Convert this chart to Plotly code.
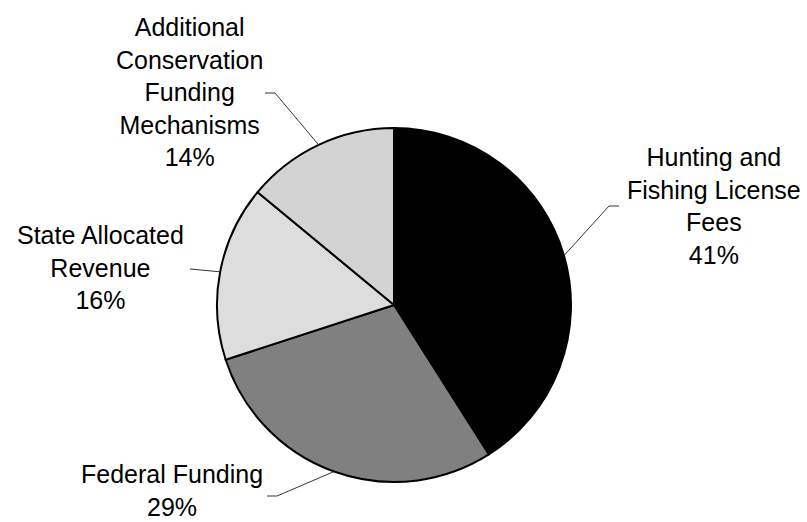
import math
import plotly.graph_objects as go

# Data
categories = ["Hunting and Fishing License Fees", "Federal Funding",
              "State Allocated Revenue", "Additional Conservation Funding Mechanisms"]
label_text = ["Hunting and<br>Fishing License<br>Fees", "Federal Funding",
              "State Allocated<br>Revenue", "Additional<br>Conservation<br>Funding<br>Mechanisms"]
values = [41, 29, 16, 14]

W, H = 807, 522
CX, CY, R = 394, 305, 177  # pie center / radius in px

colors = ["#000000", "#808080", "#dddddd", "#e6e6e6"]
patterns = ["", "", "", "."]

fig = go.Figure(go.Pie(
    labels=categories, values=values, sort=False, direction="clockwise", rotation=0,
    textinfo="none", hoverinfo="label+percent", showlegend=False,
    marker=dict(colors=colors, line=dict(color="#000000", width=2),
                pattern=dict(shape=patterns, fgcolor="#b4b4b4", bgcolor="#ececec",
                             size=2, solidity=0.5)),
    domain=dict(x=[(CX - R) / W, (CX + R) / W], y=[1 - (CY + R) / H, 1 - (CY - R) / H]),
))

def px(x):
    return x / W

def py(y):
    return 1 - y / H

# label block centres and leader elbows (layout)
label_pos = [(714, 206), (172, 490), (100, 267), (189, 92)]
elbows = [((609, 206), (619, 206)), ((277, 496), (267, 496)),
          ((190, 269), (190, 269)), ((275, 93), (265, 93))]

total = sum(values)
cum = 0
annotations = []
shapes = []
for i, v in enumerate(values):
    mid = (cum + v / 2) / total * 2 * math.pi
    cum += v
    ex = CX + R * math.sin(mid)
    ey = CY - R * math.cos(mid)
    (bx, by), (hx, hy) = elbows[i]
    path = f"M {px(ex)} {py(ey)} L {px(bx)} {py(by)} L {px(hx)} {py(hy)}"
    shapes.append(dict(type="path", xref="paper", yref="paper", path=path,
                       line=dict(color="#333333", width=1)))
    pct = round(v / total * 100)
    lx, ly = label_pos[i]
    annotations.append(dict(text=f"{label_text[i]}<br>{pct}%", x=px(lx), y=py(ly),
                            xref="paper", yref="paper", xanchor="center", yanchor="middle",
                            showarrow=False, align="center",
                            font=dict(family="Liberation Sans, Arial, sans-serif",
                                      size=25, color="#000000")))

fig.update_layout(width=W, height=H, margin=dict(l=0, r=0, t=0, b=0),
                  paper_bgcolor="white", plot_bgcolor="white",
                  annotations=annotations, shapes=shapes)

fig.write_html("out.html", config={"displayModeBar": False},
               post_script="document.body.style.margin='0';")
